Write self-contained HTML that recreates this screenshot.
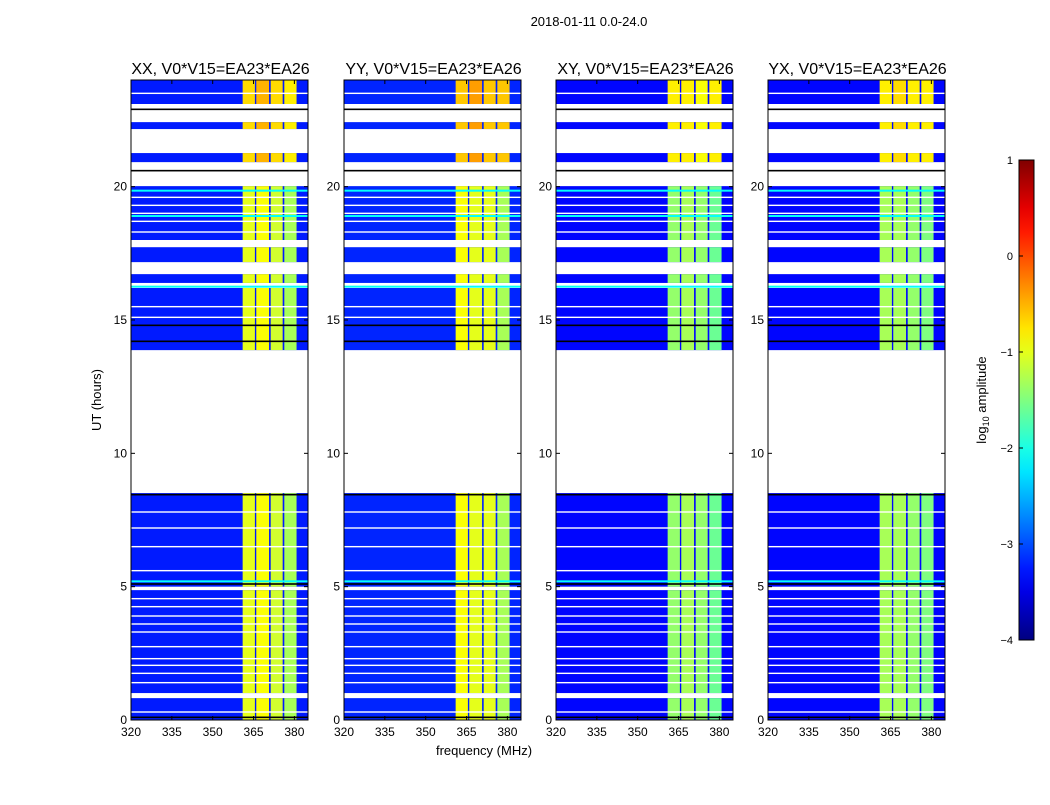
<!DOCTYPE html>
<html><head><meta charset="utf-8"><style>
body{margin:0;background:#fff;}
svg text{font-family:"Liberation Sans",sans-serif;}
</style></head><body>
<svg id="fig" width="1050" height="800" xmlns="http://www.w3.org/2000/svg">
<text x="589" y="26" font-size="13" text-anchor="middle">2018-01-11 0.0-24.0</text>
<text x="101" y="400" font-size="13" text-anchor="middle" transform="rotate(-90 101 400)">UT (hours)</text>
<text x="484" y="755" font-size="13" text-anchor="middle">frequency (MHz)</text>
<g id="panels"></g>
<g id="cbar"></g>
</svg>
<script>
const panelTitles=["XX, V0*V15=EA23*EA26","YY, V0*V15=EA23*EA26","XY, V0*V15=EA23*EA26","YX, V0*V15=EA23*EA26"];
const dataBlocks=[[0,0.82],[1.01,4.87],[5.0,8.51],[13.87,16.2],[16.39,16.72],[17.17,17.73],[18.0,20.02],[20.92,21.26],[22.16,22.42],[23.1,24]];
const whiteLines=[0.3,1.4,1.75,2.05,2.3,2.75,3.3,3.6,3.9,4.25,4.55,5.6,6.5,7.2,7.8,15.1,15.5,18.3,18.7,19.0,19.3,19.6,23.5];
const blackLines=[0.1,5.1,8.45,14.2,14.8,20.6,22.9];
const cyanLines=[5.2,16.25,19.85,18.9];
const bandEdges=[[361,365.5],[366,370.7],[371.3,375.7],[376.3,380.8]];
const bandLevel=[[-1.0,-0.9,-1.1,-1.3],[-0.9,-1.0,-1.0,-1.3],[-1.4,-1.3,-1.4,-1.6],[-1.3,-1.3,-1.4,-1.5]];
const topLevel=[[-0.7,-0.5,-0.7,-0.8],[-0.6,-0.4,-0.6,-0.6],[-0.8,-0.8,-0.9,-0.8],[-0.8,-0.7,-0.8,-0.8]];
const bgLevel=[-3.25,-3.2,-3.35,-3.35];
const xTicks=[320,335,350,365,380];
const yTicks=[0,5,10,15,20];
const cbTicks=[1,0,-1,-2,-3,-4];

const NS="http://www.w3.org/2000/svg";
const panelX=[131,344,556,768], PW=177, PT=80, PB=720;
function jet(v){let t=(v+4)/5;t=Math.max(0,Math.min(1,t));
 const c=x=>Math.round(255*Math.max(0,Math.min(1,1.5-Math.abs(4*t-x))));
 return `rgb(${c(3)},${c(2)},${c(1)})`;}
function el(tag,attrs,parent){const e=document.createElementNS(NS,tag);for(const k in attrs)e.setAttribute(k,attrs[k]);parent.appendChild(e);return e;}
const ys=h=>PB-(PB-PT)*h/24;
const root=document.getElementById('panels');
panelX.forEach((x0,p)=>{
 const xs=f=>x0+(f-320)*(PW/(385-320));
 const g=el('g',{},root);
 
 
 dataBlocks.forEach(b=>{
  const r=el('rect',{x:x0,y:ys(b[1]),width:PW,height:ys(b[0])-ys(b[1]),fill:jet(bgLevel[p])},g);
  
  
  bandEdges.forEach((be,i)=>{
   const lv=b[0]>=20.5?topLevel[p][i]:bandLevel[p][i];
   const c=el('rect',{x:xs(be[0]),y:ys(b[1]),width:xs(be[1])-xs(be[0]),height:ys(b[0])-ys(b[1]),fill:jet(lv)},g);
   
   
  });
 });
 cyanLines.forEach(h=>{const l=el('rect',{x:x0,y:ys(h)-1,width:PW,height:2,fill:jet(-2.1)},g);
  });
 whiteLines.forEach(h=>{const l=el('rect',{x:x0,y:ys(h)-0.7,width:PW,height:1.4,fill:'#fff'},g);
  });
 blackLines.forEach(h=>{const l=el('rect',{x:x0,y:ys(h)-0.8,width:PW,height:1.6,fill:'#000'},g);
  });
 const fr=el('rect',{x:x0,y:PT,width:PW,height:PB-PT,fill:'none',stroke:'#000','stroke-width':1},g);
 
 const t=el('text',{x:x0+PW/2+1,y:74,'font-size':16,'text-anchor':'middle'},g);t.textContent=panelTitles[p];
 
 xTicks.forEach(v=>{const X=xs(v);
  el('line',{x1:X,x2:X,y1:PB,y2:PB-4,stroke:'#000'},g);el('line',{x1:X,x2:X,y1:PT,y2:PT+4,stroke:'#000'},g);
  const tx=el('text',{x:X,y:PB+16,'font-size':12,'text-anchor':'middle'},g);tx.textContent=v;
  });
 yTicks.forEach(v=>{const Y=ys(v);
  el('line',{x1:x0,x2:x0+4,y1:Y,y2:Y,stroke:'#000'},g);el('line',{x1:x0+PW,x2:x0+PW-4,y1:Y,y2:Y,stroke:'#000'},g);
  const ty=el('text',{x:x0-4,y:Y+4,'font-size':12,'text-anchor':'end'},g);ty.textContent=v;
  });
});
// colorbar
const cb=document.getElementById('cbar');
const CX=1019,CW=15,CT=160,CBt=640;
const defs=el('defs',{},cb);const grad=el('linearGradient',{id:'jetg',x1:0,y1:1,x2:0,y2:0},defs);
for(let i=0;i<=20;i++){el('stop',{offset:i/20,'stop-color':jet(-4+5*i/20)},grad);}
const cr=el('rect',{x:CX,y:CT,width:CW,height:CBt-CT,fill:'url(#jetg)',stroke:'#000'},cb);

cbTicks.forEach(v=>{const Y=CBt-(v+4)/5*(CBt-CT);
 el('line',{x1:CX,x2:CX+4,y1:Y,y2:Y,stroke:'#000'},cb);
 const t=el('text',{x:CX-6,y:Y+4,'font-size':11,'text-anchor':'end'},cb);t.textContent=v<0?'\u2212'+(-v):v;
 });
const lab=el('text',{x:986,y:400,'font-size':13,'text-anchor':'middle',transform:'rotate(-90 986 400)'},cb);
lab.innerHTML='log<tspan font-size="9" dy="3">10</tspan><tspan dy="-3"> amplitude</tspan>';

</script>
</body></html>
